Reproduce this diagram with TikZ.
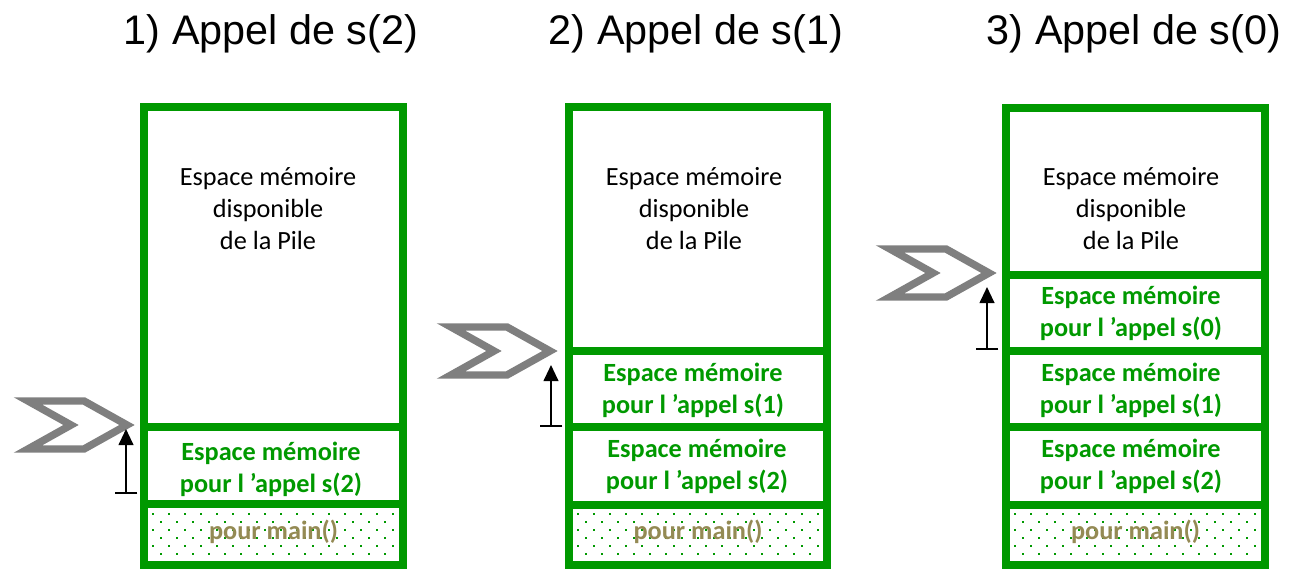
\documentclass[tikz,border=0pt]{standalone}
\usepackage{fontspec}
\setmainfont{Carlito}
\newfontfamily\titlefont{Liberation Sans}
\usetikzlibrary{arrows.meta}
\definecolor{stackgreen}{HTML}{009900}
\definecolor{mainolive}{HTML}{948A54}
\definecolor{chevgray}{HTML}{7F7F7F}
\tikzset{
  sect/.style n args={2}{draw=stackgreen, line width=5.6pt, inner sep=0pt, outer sep=0pt,
    minimum width={#1*0.75pt}, minimum height={#2*0.75pt}},
  freetext/.style={align=center, font=\fontsize{19.7}{24}\selectfont, text=black},
  calltext/.style={align=center, font=\fontsize{19.7}{24}\selectfont\bfseries, text=stackgreen},
  maintext/.style={font=\fontsize{19.7}{24}\selectfont\bfseries, text=mainolive},
  title/.style={font=\titlefont\fontsize{31}{36}\selectfont, anchor=base},
  sp/.style={line width=1.5pt, {Bar[width=17pt]}-{Triangle[length=12pt,width=11pt]}},
  pics/chevron/.style={code={
    \draw[draw=chevgray, line width=5.6pt, fill=white, line join=miter, miter limit=10]
      (-99,-24) -- (-43,-24) -- (0,0) -- (-43,24) -- (-99,24) -- (-56,0) -- cycle;}}
}
% dotted background of the main() frame; #1 = left inner edge, #2 = right inner edge
\newcommand\stackdots[2]{%
  \begin{scope}
    \clip (#1,508) rectangle (#2,561.5);
    \foreach \r in {0,...,6}{
      \foreach \c in {0,...,16}{
        \fill[stackgreen] ({#1+5+16*\c+8*mod(\r,2)-1},{513+8*\r}) rectangle +(2,2);
      }
    }
  \end{scope}}
\begin{document}
\begin{tikzpicture}[x=0.75pt,y=-0.75pt]
\useasboundingbox (0,0) rectangle (1305,570);

% ---------- 1) s(2) ----------
\stackdots{148}{399}
\node[sect={259}{320}] (a-free) at (273.5,267) {};
\node[sect={259}{77}]  (a-s2) at (273.5,465.5) {};
\node[sect={259}{61}]  (a-main) at (273.5,534.5) {};
\node[freetext] (a-freetxt) at (268,209) {Espace mémoire\\disponible\\de la Pile};
\node[calltext] (a-s2txt) at (271,469) {Espace mémoire\\pour l ’appel s(2)};
\node[maintext] (a-maintxt) at (273.5,532) {pour main()};
\node[title] (a-title) at (271,45) {1) Appel de s(2)};
\pic at (127,425) {chevron};
\coordinate (a-base) at (126,494);
\coordinate (a-top) at (126,429);
\draw[sp] (a-base) -- (a-top);

% ---------- 2) s(1) ----------
\stackdots{573}{823}
\node[sect={258}{244}] (b-free) at (698,229) {};
\node[sect={258}{76}]  (b-s1) at (698,389) {};
\node[sect={258}{78}]  (b-s2) at (698,466) {};
\node[sect={258}{60}]  (b-main) at (698,535) {};
\node[freetext] (b-freetxt) at (694,209) {Espace mémoire\\disponible\\de la Pile};
\node[calltext] (b-s1txt) at (693,390) {Espace mémoire\\pour l ’appel s(1)};
\node[calltext] (b-s2txt) at (697,466) {Espace mémoire\\pour l ’appel s(2)};
\node[maintext] (b-maintxt) at (698,532) {pour main()};
\node[title] (b-title) at (696,45) {2) Appel de s(1)};
\pic at (550,351) {chevron};
\coordinate (b-base) at (551,427);
\coordinate (b-top) at (551,365);
\draw[sp] (b-base) -- (b-top);

% ---------- 3) s(0) ----------
\stackdots{1010}{1261}
\node[sect={259}{167}] (c-free) at (1135.5,191.5) {};
\node[sect={259}{76}]  (c-s0) at (1135.5,313) {};
\node[sect={259}{76}]  (c-s1) at (1135.5,389) {};
\node[sect={259}{78}]  (c-s2) at (1135.5,466) {};
\node[sect={259}{60}]  (c-main) at (1135.5,535) {};
\node[freetext] (c-freetxt) at (1131,209) {Espace mémoire\\disponible\\de la Pile};
\node[calltext] (c-s0txt) at (1131,313) {Espace mémoire\\pour l ’appel s(0)};
\node[calltext] (c-s1txt) at (1131,390) {Espace mémoire\\pour l ’appel s(1)};
\node[calltext] (c-s2txt) at (1131,466) {Espace mémoire\\pour l ’appel s(2)};
\node[maintext] (c-maintxt) at (1135.5,532) {pour main()};
\node[title] (c-title) at (1134,45) {3) Appel de s(0)};
\pic at (989,273) {chevron};
\coordinate (c-base) at (987,350);
\coordinate (c-top) at (987,287);
\draw[sp] (c-base) -- (c-top);
\end{tikzpicture}
\end{document}
